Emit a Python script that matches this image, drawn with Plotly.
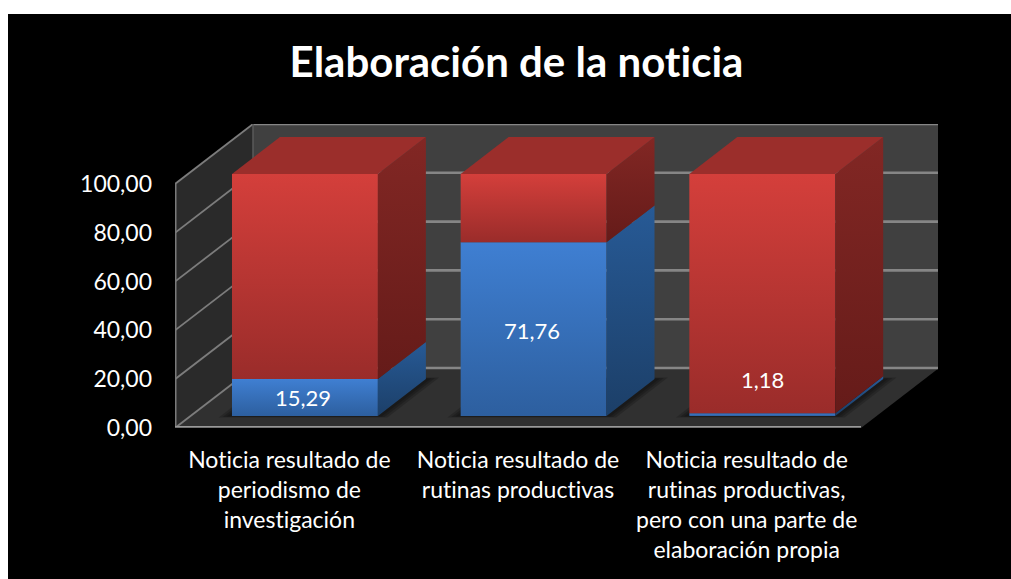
import plotly.graph_objects as go

categories = [
    "Noticia resultado de<br>periodismo de<br>investigación",
    "Noticia resultado de<br>rutinas productivas",
    "Noticia resultado de<br>rutinas productivas,<br>pero con una parte de<br>elaboración propia",
]
blue_values = [15.29, 71.76, 1.18]
red_values = [84.71, 28.24, 98.82]
blue_labels = ["15,29", "71,76", "1,18"]
label_shifts = [0, -1, 35]
y_ticks = [0, 20, 40, 60, 80, 100]
y_labels = ["0,00", "20,00", "40,00", "60,00", "80,00", "100,00"]

FONT = "Lato"
W, H = 1011, 579
# plot area in page pixels: one category is 228.67 px, one value unit 2.44 px
L, R, T, B = 175, 938, 124, 428
PX_X = 228.67
PX_Y = 2.44
# oblique depth of the box and of the bars
DX = 78 / PX_X
DY = 60 / PX_Y
BAR_W = 0.638
D0, D1 = 0.2, 0.815
BAR_SCALE = 0.992
X_MAX = (R - L) / PX_X
Y_MAX = (B - T) / PX_Y
N = len(categories)


def proj(x, v, d):
    return x + d * DX, v + d * DY


def poly(points, color=None, top=None, bottom=None):
    xs = [p[0] for p in points] + [points[0][0]]
    ys = [p[1] for p in points] + [points[0][1]]
    kw = dict(x=xs, y=ys, mode="lines", fill="toself", hoverinfo="skip",
              showlegend=False, cliponaxis=False, line=dict(width=0))
    if top:
        kw["fillgradient"] = dict(type="vertical", start=min(ys), stop=max(ys),
                                  colorscale=[[0, bottom], [1, top]])
    else:
        kw["fillcolor"] = color
    return go.Scatter(**kw)


def seg(x, y, color="#8a8a8a", width=2):
    return go.Scatter(x=x, y=y, mode="lines", hoverinfo="skip", showlegend=False,
                      cliponaxis=False, line=dict(color=color, width=width))


fig = go.Figure()

# walls and floor
fig.add_trace(poly([proj(0, 0, 1), proj(N, 0, 1), proj(N, 100, 1), proj(0, 100, 1)], "#404040"))
fig.add_trace(poly([proj(0, 0, 0), proj(0, 0, 1), proj(0, 100, 1), proj(0, 100, 0)], "#2a2a2a"))
fig.add_trace(poly([proj(0, 0, 0), proj(N, 0, 0), proj(N, 0, 1), proj(0, 0, 1)], "#303030"))

for v in y_ticks:
    a, b, c = proj(0, v, 0), proj(0, v, 1), proj(N, v, 1)
    fig.add_trace(seg([a[0], b[0]], [a[1], b[1]], "#7c7c7c", 1.8))
    fig.add_trace(seg([b[0], c[0]], [b[1], c[1]], "#868686", 2.6))

a, b = proj(0, 0, 0), proj(0, 100, 0)
fig.add_trace(seg([a[0], b[0]], [a[1], b[1]], "#7a7a7a", 3))
a, b = proj(0, 100, 1), proj(0, 0, 1)
fig.add_trace(seg([a[0], b[0]], [a[1], b[1]], "#5a5a5a", 1.5))
fig.add_trace(seg([0, N], [0, 0], "#9a9a9a", 4))
fig.add_trace(seg([0, N], [0, 0], "#4a4a4a", 1))

# soft shadows on the floor
for i in range(N):
    x0 = i + 0.5 - BAR_W / 2
    x1 = i + 0.5 + BAR_W / 2
    for grow in (0.05, 0.035, 0.02):
        fig.add_trace(poly([
            proj(x0 - grow, 0, D0 - grow * 0.5),
            proj(x1 + grow, 0, D0 - grow * 0.5),
            proj(x1 + grow, 0, D1 + grow * 0.5),
            proj(x0 - grow, 0, D1 + grow * 0.5),
        ], "rgba(0,0,0,0.18)"))

# bars, one stacked box per category
for i in range(N):
    x0 = i + 0.5 - BAR_W / 2
    x1 = i + 0.5 + BAR_W / 2
    v0 = blue_values[i] * BAR_SCALE
    v1 = (blue_values[i] + red_values[i]) * BAR_SCALE

    fig.add_trace(poly([proj(x0, 0, D0), proj(x1, 0, D0), proj(x1, v0, D0), proj(x0, v0, D0)],
                       top="#3f7fd2", bottom="#2d5f9f"))
    fig.add_trace(poly([proj(x1, 0, D0), proj(x1, 0, D1), proj(x1, v0, D1), proj(x1, v0, D0)],
                       top="#275a96", bottom="#1c3f68"))
    fig.add_trace(poly([proj(x0, v0, D0), proj(x1, v0, D0), proj(x1, v1, D0), proj(x0, v1, D0)],
                       top="#d43f3b", bottom="#9a2c2a"))
    fig.add_trace(poly([proj(x1, v0, D0), proj(x1, v0, D1), proj(x1, v1, D1), proj(x1, v1, D0)],
                       top="#822724", bottom="#651b19"))
    fig.add_trace(poly([proj(x0, v1, D0), proj(x1, v1, D0), proj(x1, v1, D1), proj(x0, v1, D1)],
                       "#9b2e2b"))

    lx, ly = proj(i + 0.5, v0 / 2, D0)
    fig.add_annotation(x=lx, y=ly, text=blue_labels[i], showarrow=False,
                       xshift=-2 if i < 2 else 0, yshift=label_shifts[i],
                       font=dict(family=FONT, size=22, color="white"))

fig.update_layout(
    width=W,
    height=H,
    autosize=False,
    showlegend=False,
    paper_bgcolor="white",
    plot_bgcolor="rgba(0,0,0,0)",
    margin=dict(l=L, r=W - R, t=T, b=H - B, pad=0),
    font=dict(family=FONT, color="white"),
    title=dict(text="<b>Elaboración de la noticia</b>", x=(288 + 745) / 2 / W, y=1 - 62 / H,
               xanchor="center", yanchor="middle", font=dict(family=FONT, size=42, color="white")),
    shapes=[dict(type="rect", xref="paper", yref="paper", layer="below", line_width=0,
                 fillcolor="black",
                 x0=(8 - L) / (R - L), x1=(W - L) / (R - L),
                 y0=(B - H) / (B - T), y1=(B - 14) / (B - T))],
)
fig.update_xaxes(range=[0, X_MAX], showgrid=False, zeroline=False, showline=False,
                 tickmode="array", tickvals=[i + 0.5 for i in range(N)], ticktext=categories,
                 ticks="", ticklabelstandoff=16, tickangle=0,
                 tickfont=dict(family=FONT, size=23, color="white"))
fig.update_yaxes(range=[0, Y_MAX], showgrid=False, zeroline=False, showline=False,
                 tickmode="array", tickvals=y_ticks, ticktext=y_labels,
                 ticks="", ticklabelstandoff=22,
                 tickfont=dict(family=FONT, size=23, color="white"))

# no page margin, and plain letters instead of the font's ligatures
post = ("document.body.style.margin='0';"
        "var s=document.createElement('style');"
        "s.textContent='text,tspan{font-variant-ligatures:none !important;"
        "font-feature-settings:\"liga\" 0,\"clig\" 0 !important;}';"
        "document.head.appendChild(s);")
fig.write_html("out.html", post_script=post, config=dict(displayModeBar=False))
